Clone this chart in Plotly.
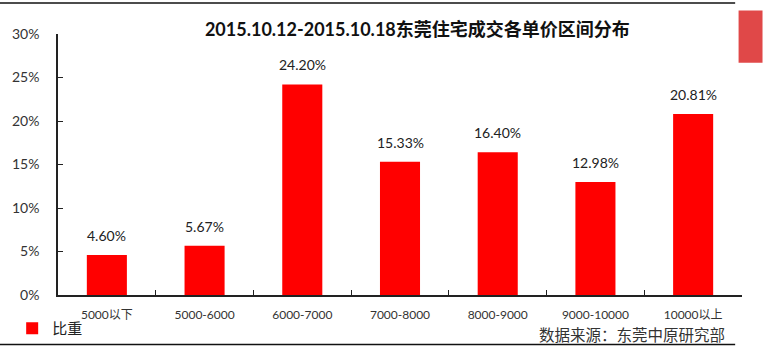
import plotly.graph_objects as go

categories = ["5000以下", "5000-6000", "6000-7000", "7000-8000", "8000-9000", "9000-10000", "10000以上"]
values = [4.60, 5.67, 24.20, 15.33, 16.40, 12.98, 20.81]
labels = ["4.60%", "5.67%", "24.20%", "15.33%", "16.40%", "12.98%", "20.81%"]
yticks = [0, 5, 10, 15, 20, 25, 30]
ytick_text = ["0%", "5%", "10%", "15%", "20%", "25%", "30%"]

FONT = "Lato, 'Noto Sans CJK SC', sans-serif"

fig = go.Figure()
fig.add_trace(go.Bar(
    x=categories, y=values, name="比重",
    marker=dict(color="#ff0000", line=dict(width=0)),
    cliponaxis=False,
))

value_annotations = [
    dict(x=c, y=v, text=t, xref="x", yref="y", showarrow=False,
         xanchor="center", yanchor="bottom", yshift=9,
         font=dict(size=14, color="#222", family=FONT))
    for c, v, t in zip(categories, values, labels)
]

fig.update_layout(
    width=763, height=352,
    margin=dict(l=58, r=21, t=34, b=57, autoexpand=False),
    paper_bgcolor="white", plot_bgcolor="white",
    bargap=0.59,
    showlegend=True,
    legend=dict(x=-0.067, y=-0.065, xanchor="left", yanchor="top",
                itemwidth=30,
                font=dict(size=15, family=FONT, color="#222"),
                bgcolor="rgba(0,0,0,0)"),
    title=dict(text="<b>2015.10.12-2015.10.18东莞住宅成交各单价区间分布</b>",
               x=0.547, xanchor="center", y=0.915, yanchor="middle",
               font=dict(size=18, family=FONT, color="#111")),
    xaxis=dict(showline=True, linecolor="#222", linewidth=1.5,
               ticks="inside", ticklen=5, tickcolor="#222",
               tickson="boundaries", ticklabelstandoff=8,
               tickfont=dict(size=12, family=FONT, color="#333"),
               showgrid=False),
    yaxis=dict(range=[0, 30], tickvals=yticks, ticktext=ytick_text,
               showline=True, linecolor="#222", linewidth=1.5,
               ticks="inside", ticklen=5, tickcolor="#222",
               tickfont=dict(size=14, family=FONT, color="#333"),
               showgrid=False, zeroline=False, ticklabelstandoff=14),
    shapes=[
        dict(type="line", xref="paper", yref="paper", x0=-0.085, x1=0.99, y0=1.119, y1=1.119,
             line=dict(color="#111", width=1.5)),
        dict(type="line", xref="paper", yref="paper", x0=-0.085, x1=0.99, y0=-0.19, y1=-0.19,
             line=dict(color="#111", width=1.5)),
        dict(type="rect", xref="paper", yref="paper", x0=0.995, x1=1.03, y0=0.89, y1=1.09,
             fillcolor="#e04848", line=dict(width=0), layer="below"),
    ],
    annotations=value_annotations + [
        dict(text="数据来源：东莞中原研究部", xref="paper", yref="paper",
             x=0.976, y=-0.19, xanchor="right", yanchor="bottom", showarrow=False,
             borderpad=0,
             font=dict(size=15.5, family=FONT, color="#333")),
    ],
)

fig.write_html("out.html")
